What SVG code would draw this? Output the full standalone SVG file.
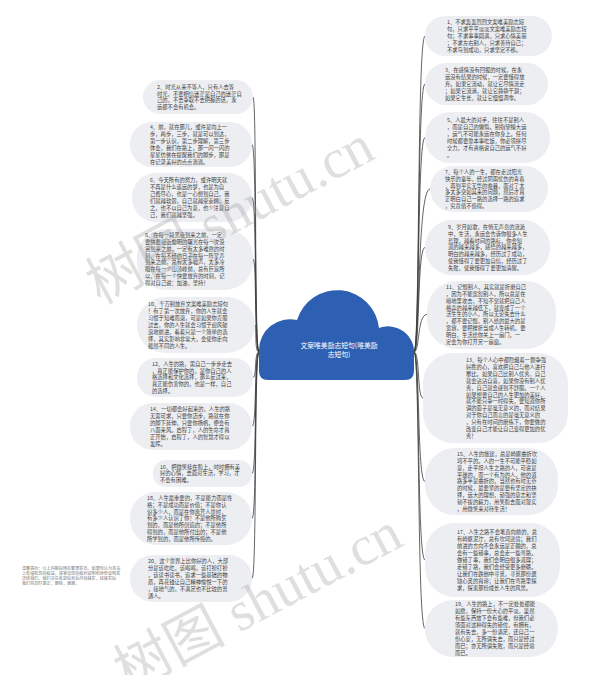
<svg xmlns="http://www.w3.org/2000/svg" width="607" height="675" viewBox="0 0 607 675">
<style>
.b{fill:#eceef2}
.t{font-family:"Noto Sans CJK SC","Noto Sans",sans-serif;font-size:5.3px;fill:#3a3a3a}
.c{fill:none;stroke:#3c3c3c;stroke-width:0.8}
.wm{font-family:"Liberation Serif","Noto Sans CJK SC",serif;font-size:56px;fill:#9a9a9a;fill-opacity:0.32}
.note{font-family:"Noto Sans CJK SC",sans-serif;font-size:4.1px;fill:#777}
</style>
<rect width="607" height="675" fill="#ffffff"/>
<g id="connectors">
<path class="c" d="M259,352 C254,352 257,97 253,97"/>
<path class="c" d="M259,352 C254,352 257,144.5 252,144.5"/>
<path class="c" d="M259,352 C254,352 257,197.5 252,197.5"/>
<path class="c" d="M259,352 C254,352 257,259 253,259"/>
<path class="c" d="M259,352 C254,352 257,325 255,325"/>
<path class="c" d="M259,352 C254,352 257,377.5 253,377.5"/>
<path class="c" d="M259,352 C254,352 257,426.5 252,426.5"/>
<path class="c" d="M259,352 C254,352 257,473.5 252,473.5"/>
<path class="c" d="M259,352 C254,352 257,518.5 252,518.5"/>
<path class="c" d="M259,352 C254,352 257,578.5 252,578.5"/>
<path class="c" d="M414,352 C420,352 417,36 425,36"/>
<path class="c" d="M414,352 C420,352 417,84 425,84"/>
<path class="c" d="M414,352 C420,352 417,137.5 425,137.5"/>
<path class="c" d="M414,352 C420,352 417,189 430,189"/>
<path class="c" d="M414,352 C420,352 417,247.5 425,247.5"/>
<path class="c" d="M414,352 C420,352 417,314.5 427,314.5"/>
<path class="c" d="M414,352 C420,352 417,398 423,398"/>
<path class="c" d="M414,352 C420,352 417,481.5 425,481.5"/>
<path class="c" d="M414,352 C420,352 417,560 425,560"/>
<path class="c" d="M414,352 C420,352 417,628.5 425,628.5"/>
</g>
<g id="root">
<path fill="#2d5fb3" d="M268,380 Q259,380 259,371 L259,350 A31,31 0 0 1 297,320 A42,42 0 0 1 379,328 A26,26 0 0 1 414,355 L414,371 Q414,380 405,380 Z"/>
<text font-family="Noto Sans CJK SC,sans-serif" font-size="6.8" fill="#ffffff" text-anchor="middle"><tspan x="339" y="347.5">文案唯美励志短句(唯美励</tspan><tspan x="339" y="357">志短句)</tspan></text>
</g>
<g id="n1"><rect class="b" x="425" y="16" width="127" height="40" rx="20"/>
<text class="t"><tspan x="447" y="24.1">1、不求轰轰烈烈文案唯美励志短</tspan><tspan x="447" y="31">句，只求平平淡淡文案唯美励志短</tspan><tspan x="447" y="37.9">句；不求事事圆满，只求心情美丽</tspan><tspan x="447" y="44.8">；不求左右别人，只求善待自己；</tspan><tspan x="447" y="51.7">不求马到成功，只求坚定不移。</tspan></text></g>
<g id="n2"><rect class="b" x="143" y="80" width="110" height="34" rx="17"/>
<text class="t"><tspan x="157" y="88.6">2、时光从来不等人，只有人去等</tspan><tspan x="157" y="95.5">时光，不要相信迷茫是自己的迷茫自</tspan><tspan x="157" y="102.4">己的，不去争取不去把握的话，永</tspan><tspan x="157" y="109.3">远都不会有机会。</tspan></text></g>
<g id="n3"><rect class="b" x="425" y="63" width="123" height="42" rx="21"/>
<text class="t"><tspan x="445" y="72.1">3、在感情没有回报的时候，在永</tspan><tspan x="445" y="79">远没有结果的时候，一定要懂得放</tspan><tspan x="445" y="85.9">弃。如果它流动，就让它尽情流走</tspan><tspan x="445" y="92.8">；如果它流淌，就让它静静干涸；</tspan><tspan x="445" y="99.7">如果它生长，就让它慢慢凋零。</tspan></text></g>
<g id="n4"><rect class="b" x="130" y="122" width="122" height="45" rx="22"/>
<text class="t"><tspan x="150" y="129.2">4、前，就在那儿，或许是向上一</tspan><tspan x="150" y="136.1">步，两步，三步，就是可以到达，</tspan><tspan x="150" y="143">第一步认识，第二步理解，第三步</tspan><tspan x="150" y="149.9">体会，我们在路上，那一闪一闪的</tspan><tspan x="150" y="156.8">星星仿佛在提醒我们的脚步，那是</tspan><tspan x="150" y="163.7">在记录美好的点点滴滴。</tspan></text></g>
<g id="n5"><rect class="b" x="425" y="112" width="125" height="51" rx="25"/>
<text class="t"><tspan x="447" y="122.2">5、人最大的对手，往往不是别人</tspan><tspan x="447" y="129.1">，而是自己的懒惰。别指望撞大运</tspan><tspan x="447" y="136">，运气不可能永远在你身上。任何</tspan><tspan x="447" y="142.9">时候都要靠本事吃饭，你必须拼尽</tspan><tspan x="447" y="149.8">全力，才有资格说自己的运气不好</tspan><tspan x="447" y="156.7">。</tspan></text></g>
<g id="n6"><rect class="b" x="132" y="173" width="120" height="49" rx="24"/>
<text class="t"><tspan x="150" y="182.2">6、今天所有的努力，或许明天就</tspan><tspan x="150" y="189.1">不再是什么遥远的梦，也是为自</tspan><tspan x="150" y="196">己费尽心，也是一心想到自己，我</tspan><tspan x="150" y="202.9">们就越软弱，自己就越受束缚，反</tspan><tspan x="150" y="209.8">之，也不以自己为意，也少注意自</tspan><tspan x="150" y="216.7">己，我们就越坚强。</tspan></text></g>
<g id="n7"><rect class="b" x="430" y="166" width="118" height="46" rx="23"/>
<text class="t"><tspan x="445" y="173.7">7、每个人的一生，都在走过阳光</tspan><tspan x="445" y="180.6">快乐的童年，经过阴雨忧伤的青春</tspan><tspan x="445" y="187.5">，再到平实无华的晚暮，面对了太</tspan><tspan x="445" y="194.4">多太多突如其来的问题，然后才真</tspan><tspan x="445" y="201.3">正明白自己一路的选择一路的追求</tspan><tspan x="445" y="208.2">，究竟值不值得。</tspan></text></g>
<g id="n8"><rect class="b" x="137" y="229" width="116" height="61" rx="28"/>
<text class="t"><tspan x="145" y="236.8">8、在每一段黑夜到来之前，一定</tspan><tspan x="145" y="243.7">要快要接近黎明的曙光在每一次没</tspan><tspan x="145" y="250.6">完到来之前，一定有太多难熬的时</tspan><tspan x="145" y="257.5">刻，在每不经的日子在每一阵掌声</tspan><tspan x="145" y="264.4">到来之前，总有太多嘘声，太多冷</tspan><tspan x="145" y="271.3">眼在每一个山顶峰前，总有巨浪所</tspan><tspan x="145" y="278.2">以，在每一个快要放弃的时刻，记</tspan><tspan x="145" y="285.1">得对自己说：加油，坚持！</tspan></text></g>
<g id="n9"><rect class="b" x="425" y="220" width="125" height="55" rx="27"/>
<text class="t"><tspan x="448" y="228.7">9、岁月如歌，在悄无声息的流逝</tspan><tspan x="448" y="235.6">中，生活，永远会告诉你很多人生</tspan><tspan x="448" y="242.5">哲理，越看时间的路标，你会知</tspan><tspan x="448" y="249.4">道的越来越多，感悟的越来越多，</tspan><tspan x="448" y="256.3">明白的越来越多，经历过了成功，</tspan><tspan x="448" y="263.2">使我懂得了要更加自信，经历过了</tspan><tspan x="448" y="270.1">失败，使我懂得了要更加清醒。</tspan></text></g>
<g id="n10"><rect class="b" x="137" y="297" width="118" height="56" rx="28"/>
<text class="t"><tspan x="148" y="306.2">10、千万别放弃文案唯美励志短句</tspan><tspan x="148" y="313.1">！有了第一次放弃，你的人生就会</tspan><tspan x="148" y="320">习惯于知难而退，可是如果你克服</tspan><tspan x="148" y="326.9">过去，你的人生就会习惯于迎风破</tspan><tspan x="148" y="333.8">浪地前进，看着只是一个简单的选</tspan><tspan x="148" y="340.7">择，其实影响非常大，会使你走向</tspan><tspan x="148" y="347.6">截然不同的人生。</tspan></text></g>
<g id="n11"><rect class="b" x="427" y="281" width="129" height="68" rx="30"/>
<text class="t"><tspan x="446" y="288.8">11、记恨别人，其实就是折磨自己</tspan><tspan x="446" y="295.7">，因为不能宽恕别人，所以总是在</tspan><tspan x="446" y="302.6">暗地里攻击，不知不觉就把自己人</tspan><tspan x="446" y="309.5">格弄的越来越低下，就变成了一个</tspan><tspan x="446" y="316.4">活生生的小人，所以无论失去什么</tspan><tspan x="446" y="323.3">，都不要记恨，别人给的最大的是</tspan><tspan x="446" y="330.2">宽容，要把挫折当成人生转机，要</tspan><tspan x="446" y="337.1">明白，生活给你关上一扇门，一</tspan><tspan x="446" y="344">定会为你打开另一扇窗。</tspan></text></g>
<g id="n12"><rect class="b" x="137" y="358" width="116" height="39" rx="19"/>
<text class="t"><tspan x="152" y="365.6">12、人生的路，需自己一步步走去</tspan><tspan x="152" y="372.5">，真正能保护你的，是你自己的人</tspan><tspan x="152" y="379.4">格选择和文化选择，那么反过来，</tspan><tspan x="152" y="386.3">真正能伤害你的，也是一样，自己</tspan><tspan x="152" y="393.2">的选择。</tspan></text></g>
<g id="n13"><rect class="b" x="423" y="353" width="145" height="90" rx="30"/>
<text class="t"><tspan x="466" y="362">13、每个人心中都隐藏着一颗争强</tspan><tspan x="466" y="368.9">好胜的心，喜欢把自己与他人进行</tspan><tspan x="466" y="375.8">攀比。如果自己比别人优秀，自己</tspan><tspan x="466" y="382.7">就会沾沾自喜，如果你没有别人优</tspan><tspan x="466" y="389.6">秀，自己就会感到不舒服。一个人</tspan><tspan x="466" y="396.5">如果想要自己的人生更加的美好，</tspan><tspan x="466" y="403.4">就不能只争一时得失，要知道你所</tspan><tspan x="466" y="410.3">谓的面子是毫无意义的，而对结果</tspan><tspan x="466" y="417.2">对于你自己而言的是毫无意义的</tspan><tspan x="466" y="424.1">，只有在时间的磨练下，你要做的</tspan><tspan x="466" y="431">改变自己才能让自己变得更加的优</tspan><tspan x="466" y="437.9">秀！</tspan></text></g>
<g id="n14"><rect class="b" x="130" y="403" width="122" height="47" rx="23"/>
<text class="t"><tspan x="150" y="411.2">14、一切都会好起来的，人生的路</tspan><tspan x="150" y="418.1">无需可求，只要你迈步，路就在你</tspan><tspan x="150" y="425">的脚下延伸，只要你扬帆，便会有</tspan><tspan x="150" y="431.9">八面来风。启程了，人的生命才真</tspan><tspan x="150" y="438.8">正开始，启程了，人的智慧才得以</tspan><tspan x="150" y="445.7">发挥。</tspan></text></g>
<g id="n15"><rect class="b" x="425" y="448" width="133" height="67" rx="30"/>
<text class="t"><tspan x="457" y="455.8">15、人生的旅途，总是崎岖曲折坎</tspan><tspan x="457" y="462.7">坷不平的。人的一生不可能平稳如</tspan><tspan x="457" y="469.6">意，走平坦人生之路的人，可说是</tspan><tspan x="457" y="476.5">平庸的。而一个有为的人，他的道</tspan><tspan x="457" y="483.4">路多半是曲折的，当然也有时无奈</tspan><tspan x="457" y="490.3">的时候，最要紧的是要有坚定的抉</tspan><tspan x="457" y="497.2">择，远大的理想，顽强的意志和坚</tspan><tspan x="457" y="504.1">韧不拔的毅力，用笑脸去面对现实</tspan><tspan x="457" y="511">，用微笑来对待生活！</tspan></text></g>
<g id="n16"><rect class="b" x="153" y="460" width="99" height="27" rx="13"/>
<text class="t"><tspan x="160" y="468.5">16、把微笑挂在脸上，时时拥有美</tspan><tspan x="160" y="475.4">好的心情，去面对生活，学习，才</tspan><tspan x="160" y="482.3">不会有困难。</tspan></text></g>
<g id="n17"><rect class="b" x="425" y="523" width="135" height="74" rx="30"/>
<text class="t"><tspan x="457" y="534.3">17、人生之路不会笔直向前的，总</tspan><tspan x="457" y="541.2">有崎岖泥泞，总有坎坷逆境；我们</tspan><tspan x="457" y="548.1">前进的方向不会永远是正确的，总</tspan><tspan x="457" y="555">会有一些错事，总会走一些弯路。</tspan><tspan x="457" y="561.9">做错了事，我们会明白很多道理；</tspan><tspan x="457" y="568.8">走错了路，我们会经受更多磨砺。</tspan><tspan x="457" y="575.7">让我们在跌倒中寻觅，寻觅那份遗</tspan><tspan x="457" y="582.6">缺心灵的真谛；让我们在弯路里探</tspan><tspan x="457" y="589.5">求，探索那份成长人生的风景。</tspan></text></g>
<g id="n18"><rect class="b" x="130" y="492" width="122" height="53" rx="26"/>
<text class="t"><tspan x="147" y="499.7">18、人生最重要的，不是能力而是性</tspan><tspan x="147" y="506.6">格；不是成功而是价值；不是你认</tspan><tspan x="147" y="513.5">识多少人，而是在你离开人世时，</tspan><tspan x="147" y="520.4">有多少人认识了你！不是他所购买</tspan><tspan x="147" y="527.3">到的，而是他所创造的；不是他所</tspan><tspan x="147" y="534.2">得到的，而是他所付出的；不是他</tspan><tspan x="147" y="541.1">所学到的，而是他所传授的。</tspan></text></g>
<g id="n19"><rect class="b" x="425" y="600" width="133" height="57" rx="28"/>
<text class="t"><tspan x="455" y="606.3">19、人生的路上，不一定处处都能</tspan><tspan x="455" y="613.2">如愿，保持一份大心的平淡，虽然</tspan><tspan x="455" y="620.1">有些东西放下会有些难，但我们必</tspan><tspan x="455" y="627">须面对这种得失的错位，有拥有，</tspan><tspan x="455" y="633.9">就有失去，多一份满足，还自己一</tspan><tspan x="455" y="640.8">份心安，无所谓失去，而只是经过</tspan><tspan x="455" y="647.7">而已；亦无所谓失败，而只是经验</tspan><tspan x="455" y="654.6">而已。</tspan></text></g>
<g id="n20"><rect class="b" x="130" y="555" width="122" height="47" rx="23"/>
<text class="t"><tspan x="148" y="563.2">20、这个世界上比你好的人，大部</tspan><tspan x="148" y="570.1">分是该吃吃，该喝喝，该打扮打扮</tspan><tspan x="148" y="577">，该读书读书，追求一些基础的物</tspan><tspan x="148" y="583.9">质，再花钱让自己精神愉悦一下的</tspan><tspan x="148" y="590.8">，接地气的，不满足也不比较的普</tspan><tspan x="148" y="597.7">通人。</tspan></text></g>
<g id="footnote">
<text class="note"><tspan x="22" y="570">温馨提示：以上内容由网友整理发布，如果你认为本站</tspan><tspan x="22" y="575">上有侵犯您的权益，请拿出您的权利证明和身份证明发</tspan><tspan x="22" y="580">送给我们，我们会在收到信息后尽快核实，经核实后</tspan><tspan x="22" y="585">我们将及时更正，删除，谢谢。</tspan></text>
</g>
<g id="watermark">
<text class="wm" transform="translate(100,305) rotate(-28)">树图 shutu.cn</text>
<text class="wm" transform="translate(128,692) rotate(-28)">树图 shutu.cn</text>
</g>
</svg>
